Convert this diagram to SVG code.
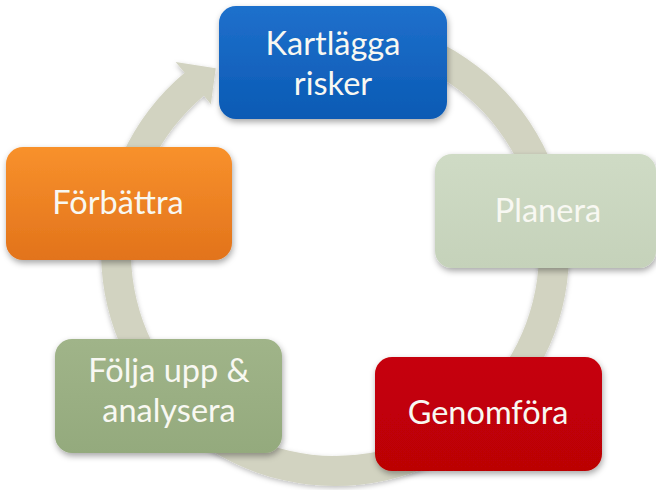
<svg xmlns="http://www.w3.org/2000/svg" width="656" height="490" viewBox="0 0 656 490">
  <style>
    .box { filter: url(#shadow); }
    .lbl { font-family: Lato, "Open Sans", "Liberation Sans", sans-serif; font-size: 32.5px; fill: #f8f8f2; text-anchor: middle; }
    .ring { fill: #d2d3c1; filter: url(#rshadow); }
  </style>
  <defs>
    <filter id="shadow" x="-10%" y="-10%" width="125%" height="130%">
      <feDropShadow dx="1" dy="3" stdDeviation="3" flood-color="#000" flood-opacity="0.35"/>
    </filter>
    <filter id="rshadow" x="-10%" y="-10%" width="120%" height="120%">
      <feDropShadow dx="0" dy="2" stdDeviation="2.5" flood-color="#000" flood-opacity="0.25"/>
    </filter>
    <linearGradient id="gBlue" x1="0" y1="0" x2="0" y2="1">
      <stop offset="0" stop-color="#1f70cc"/>
      <stop offset="1" stop-color="#0a5ab4"/>
    </linearGradient>
    <linearGradient id="gOrange" x1="0" y1="0" x2="0" y2="1">
      <stop offset="0" stop-color="#f8912c"/>
      <stop offset="1" stop-color="#e2731b"/>
    </linearGradient>
    <linearGradient id="gSage" x1="0" y1="0" x2="0" y2="1">
      <stop offset="0" stop-color="#cfdbc5"/>
      <stop offset="1" stop-color="#c5d2ba"/>
    </linearGradient>
    <linearGradient id="gGreen" x1="0" y1="0" x2="0" y2="1">
      <stop offset="0" stop-color="#a0b489"/>
      <stop offset="1" stop-color="#94aa7d"/>
    </linearGradient>
    <linearGradient id="gRed" x1="0" y1="0" x2="0" y2="1">
      <stop offset="0" stop-color="#c60008"/>
      <stop offset="1" stop-color="#bb0006"/>
    </linearGradient>
  </defs>

  <rect width="656" height="490" fill="#ffffff"/>

  <g id="connectors">
    <path class="ring" d="M395.6,26 A234,234 0 1 1 184.6,72.8 L175.6,62 L215.7,68.3 L210.9,104.2 L203.9,95.7 A204,204 0 1 0 387.8,55 Z"/>
  </g>

  <g id="node-kartlagga">
    <rect class="box" x="219" y="6" width="228" height="113" rx="17" fill="url(#gBlue)"/>
    <text class="lbl" x="333" y="55">Kartlägga</text>
    <text class="lbl" x="333" y="94.5">risker</text>
  </g>

  <g id="node-planera">
    <rect class="box" x="435" y="154" width="221" height="114" rx="17" fill="url(#gSage)"/>
    <text class="lbl" x="548" y="222">Planera</text>
  </g>

  <g id="node-genomfora">
    <rect class="box" x="375" y="357" width="227" height="114" rx="17" fill="url(#gRed)"/>
    <text class="lbl" x="488" y="424">Genomföra</text>
  </g>

  <g id="node-folja">
    <rect class="box" x="55" y="339" width="227" height="114" rx="17" fill="url(#gGreen)"/>
    <text class="lbl" x="169" y="382">Följa upp &amp;</text>
    <text class="lbl" x="169" y="421.5">analysera</text>
  </g>

  <g id="node-forbattra">
    <rect class="box" x="6" y="147" width="226" height="113" rx="17" fill="url(#gOrange)"/>
    <text class="lbl" x="118" y="214">Förbättra</text>
  </g>
</svg>
